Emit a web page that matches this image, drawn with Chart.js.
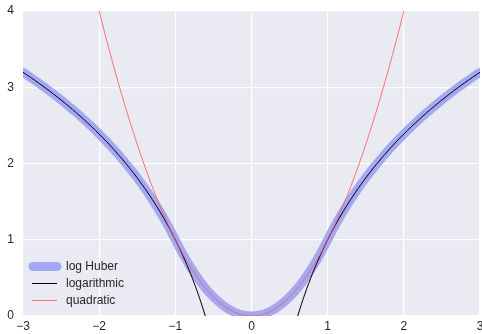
<!DOCTYPE html>
<html>
<head>
<meta charset="utf-8">
<script src="https://cdn.jsdelivr.net/npm/chart.js@4"></script>
<style>
  html, body { margin: 0; padding: 0; background: #fff; }
  #wrap { width: 482px; height: 334px; }
</style>
</head>
<body>
<div id="wrap"><canvas id="huberChart"></canvas></div>
<script>
const xs = [
  -3.0, -2.9, -2.8, -2.7, -2.6, -2.5, -2.4, -2.3, -2.2, -2.1,
  -2.0, -1.9, -1.8, -1.7, -1.6, -1.5, -1.4, -1.3, -1.2, -1.1,
  -1.0, -0.9, -0.8, -0.7, -0.6, -0.5, -0.4, -0.3, -0.2, -0.1,
  0.0,
  0.1, 0.2, 0.3, 0.4, 0.5, 0.6, 0.7, 0.8, 0.9, 1.0,
  1.1, 1.2, 1.3, 1.4, 1.5, 1.6, 1.7, 1.8, 1.9, 2.0,
  2.1, 2.2, 2.3, 2.4, 2.5, 2.6, 2.7, 2.8, 2.9, 3.0
]

const logHuber = [
  3.197, 3.129, 3.059, 2.987, 2.911, 2.833, 2.751, 2.666, 2.577, 2.484,
  2.386, 2.284, 2.176, 2.061, 1.940, 1.811, 1.673, 1.525, 1.365, 1.191,
  1.00, 0.81, 0.64, 0.49, 0.36, 0.25, 0.16, 0.09, 0.04, 0.01,
  0.0,
  0.01, 0.04, 0.09, 0.16, 0.25, 0.36, 0.49, 0.64, 0.81, 1.00,
  1.191, 1.365, 1.525, 1.673, 1.811, 1.940, 2.061, 2.176, 2.284, 2.386,
  2.484, 2.577, 2.666, 2.751, 2.833, 2.911, 2.987, 3.059, 3.129, 3.197
]

const logarithmic = [
  3.197, 3.129, 3.059, 2.987, 2.911, 2.833, 2.751, 2.666, 2.577, 2.484,
  2.386, 2.284, 2.176, 2.061, 1.940, 1.811, 1.673, 1.525, 1.365, 1.191,
  1.00, 0.789, 0.554, 0.287, -0.022, -0.386, -0.833, -1.408, -2.219, -3.605,
  null,
  -3.605, -2.219, -1.408, -0.833, -0.386, -0.022, 0.287, 0.554, 0.789, 1.00,
  1.191, 1.365, 1.525, 1.673, 1.811, 1.940, 2.061, 2.176, 2.284, 2.386,
  2.484, 2.577, 2.666, 2.751, 2.833, 2.911, 2.987, 3.059, 3.129, 3.197
]

const quadratic = [
  9.00, 8.41, 7.84, 7.29, 6.76, 6.25, 5.76, 5.29, 4.84, 4.41,
  4.00, 3.61, 3.24, 2.89, 2.56, 2.25, 1.96, 1.69, 1.44, 1.21,
  1.00, 0.81, 0.64, 0.49, 0.36, 0.25, 0.16, 0.09, 0.04, 0.01,
  0.0,
  0.01, 0.04, 0.09, 0.16, 0.25, 0.36, 0.49, 0.64, 0.81, 1.00,
  1.21, 1.44, 1.69, 1.96, 2.25, 2.56, 2.89, 3.24, 3.61, 4.00,
  4.41, 4.84, 5.29, 5.76, 6.25, 6.76, 7.29, 7.84, 8.41, 9.00
]

const seriesNames = ['log Huber', 'logarithmic', 'quadratic']
const xTicks = [-3, -2, -1, 0, 1, 2, 3]
const yTicks = [0, 1, 2, 3, 4]

const toPoints = ys => xs.map((x, i) => ({ x: x, y: ys[i] }))
const minus = v => String(v).replace('-', '\u2212')
const tickFont = { family: '"Liberation Sans", Arial, sans-serif', size: 12 }

const bgPlugin = {
  id: 'plotBg',
  beforeDraw(chart) {
    const { ctx, chartArea: a } = chart
    ctx.save()
    ctx.fillStyle = '#eaeaf2'
    ctx.fillRect(a.left, a.top, a.right - a.left, a.bottom - a.top)
    ctx.restore()
  }
}

// matplotlib-like legend sitting inside the plot, lower left
const legendPlugin = {
  id: 'innerLegend',
  afterDraw(chart) {
    const { ctx, chartArea: a } = chart
    ctx.save()
    ctx.font = '12px "Liberation Sans", Arial, sans-serif'
    ctx.textBaseline = 'middle'
    chart.data.datasets.forEach((ds, i) => {
      const y = Math.round(a.bottom - 50 + i * 17)
      ctx.strokeStyle = ds.borderColor
      ctx.lineWidth = ds.borderWidth
      ctx.lineCap = i === 0 ? 'round' : 'butt'
      ctx.beginPath()
      ctx.moveTo(a.left + (i === 0 ? 10 : 9), y + 0.5)
      ctx.lineTo(a.left + 34, y + 0.5)
      ctx.stroke()
      ctx.fillStyle = '#262626'
      ctx.fillText(ds.label, a.left + 43, y + 0.5)
    })
    ctx.restore()
  }
}

new Chart(document.getElementById('huberChart'), {
  type: 'line',
  data: {
    datasets: [
      { label: seriesNames[0], data: toPoints(logHuber), order: 3, borderColor: 'rgba(150,155,245,0.85)', borderWidth: 9, pointRadius: 0, tension: 0.3, borderCapStyle: 'round' },
      { label: seriesNames[1], data: toPoints(logarithmic), order: 2, borderColor: '#000000', borderWidth: 1, pointRadius: 0, tension: 0.3, spanGaps: false },
      { label: seriesNames[2], data: toPoints(quadratic), order: 1, borderColor: 'rgba(255,90,90,0.85)', borderWidth: 1, pointRadius: 0, tension: 0.3 }
    ]
  },
  options: {
    responsive: true,
    maintainAspectRatio: false,
    animation: false,
    events: [],
    layout: { padding: { top: 11, right: 2, left: 0, bottom: 0 } },
    plugins: { legend: { display: false }, tooltip: { enabled: false } },
    scales: {
      x: {
        type: 'linear', min: -3, max: 3,
        afterBuildTicks: s => { s.ticks = xTicks.map(v => ({ value: v })) },
        afterFit: s => { s.height = 18; s.paddingLeft = 0; s.paddingRight = 0 },
        border: { display: false },
        grid: { color: '#ffffff', lineWidth: 1.2, drawTicks: false },
        ticks: { color: '#262626', font: tickFont, padding: 3, maxRotation: 0, callback: v => minus(v) }
      },
      y: {
        min: 0, max: 4,
        afterBuildTicks: s => { s.ticks = yTicks.map(v => ({ value: v })) },
        afterFit: s => { s.width = 23; s.paddingTop = 0; s.paddingBottom = 0 },
        border: { display: false },
        grid: { color: '#ffffff', lineWidth: 1.2, drawTicks: false },
        ticks: { color: '#262626', font: tickFont, padding: 9, callback: v => minus(v) }
      }
    }
  },
  plugins: [bgPlugin, legendPlugin]
})
</script>
</body>
</html>
